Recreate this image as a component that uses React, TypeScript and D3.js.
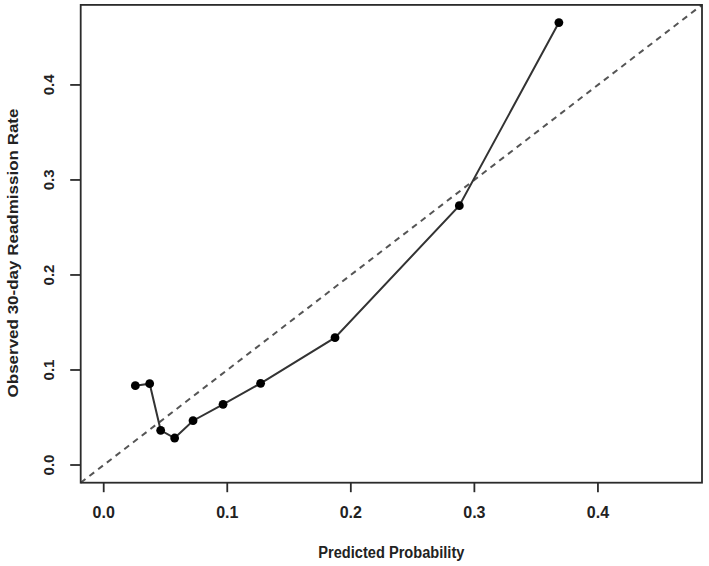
import React from "react";
import * as d3 from "d3";

// Calibration: mean predicted probability per risk group vs observed 30-day readmission rate
const predicted = [0.0256, 0.0372, 0.0461, 0.0574, 0.0723, 0.0966, 0.127, 0.1872, 0.2878, 0.3684];
const observed = [0.0835, 0.0856, 0.0365, 0.0284, 0.0466, 0.0639, 0.086, 0.134, 0.2729, 0.4656];
const xTicks = [0, 0.1, 0.2, 0.3, 0.4];
const yTicks = [0, 0.1, 0.2, 0.3, 0.4];
const xTitle = "Predicted Probability";
const yTitle = "Observed 30-day Readmission Rate";

const W = 709;
const H = 566;
const plot = { left: 80.7, right: 702, top: 4.9, bottom: 482.7 };

export default function App() {
  // Both axes share the limits [0, max observed], padded by 4% like base R graphics
  const hi = d3.max(observed) as number;
  const pad = hi * 0.04;
  const x = d3.scaleLinear().domain([-pad, hi + pad]).range([plot.left, plot.right]);
  const y = d3.scaleLinear().domain([-pad, hi + pad]).range([plot.bottom, plot.top]);

  const pts = predicted.map((p, i) => [p, observed[i]] as [number, number]);
  const line = d3
    .line<[number, number]>()
    .x((d) => x(d[0]))
    .y((d) => y(d[1]));

  const [d0, d1] = x.domain();
  const font = "'Liberation Sans', Arial, Helvetica, sans-serif";
  const ink = "#2b2b2b";

  return (
    <svg
      width={W}
      height={H}
      style={{ position: "absolute", left: 0, top: 0, background: "#fff" }}
      fontFamily={font}
    >
      <rect width={W} height={H} fill="#fff" />
      {/* identity reference line across the full plot region */}
      <line
        x1={x(d0)}
        y1={y(d0)}
        x2={x(d1)}
        y2={y(d1)}
        stroke="#555"
        strokeWidth={2}
        strokeDasharray="6 5"
      />
      <path d={line(pts) || ""} fill="none" stroke="#333" strokeWidth={2} />
      {pts.map((d, i) => (
        <circle key={i} cx={x(d[0])} cy={y(d[1])} r={4.4} fill="#000" />
      ))}
      <rect
        x={plot.left}
        y={plot.top}
        width={plot.right - plot.left}
        height={plot.bottom - plot.top}
        fill="none"
        stroke={ink}
        strokeWidth={1.8}
      />
      {xTicks.map((t) => (
        <g key={"x" + t}>
          <line x1={x(t)} x2={x(t)} y1={plot.bottom} y2={plot.bottom + 9.5} stroke={ink} strokeWidth={1.8} />
          <text x={x(t)} y={518} textAnchor="middle" fontSize={16} fontWeight="bold" fill="#222">
            {d3.format(".1f")(t)}
          </text>
        </g>
      ))}
      {yTicks.map((t) => (
        <g key={"y" + t}>
          <line x1={plot.left - 10.5} x2={plot.left} y1={y(t)} y2={y(t)} stroke={ink} strokeWidth={1.8} />
          <text
            transform={`translate(53.5,${y(t)}) rotate(-90)`}
            textAnchor="middle"
            fontSize={15}
            fontWeight="bold"
            fill="#222"
          >
            {d3.format(".1f")(t)}
          </text>
        </g>
      ))}
      <text
        transform={`translate(${(plot.left + plot.right) / 2},558) scale(0.86,1)`}
        textAnchor="middle"
        fontSize={17}
        fontWeight="bold"
        fill="#222"
      >
        {xTitle}
      </text>
      <text
        transform={`translate(18,253) scale(0.86,1) rotate(-90)`}
        textAnchor="middle"
        fontSize={17}
        fontWeight="bold"
        fill="#222"
      >
        {yTitle}
      </text>
    </svg>
  );
}
